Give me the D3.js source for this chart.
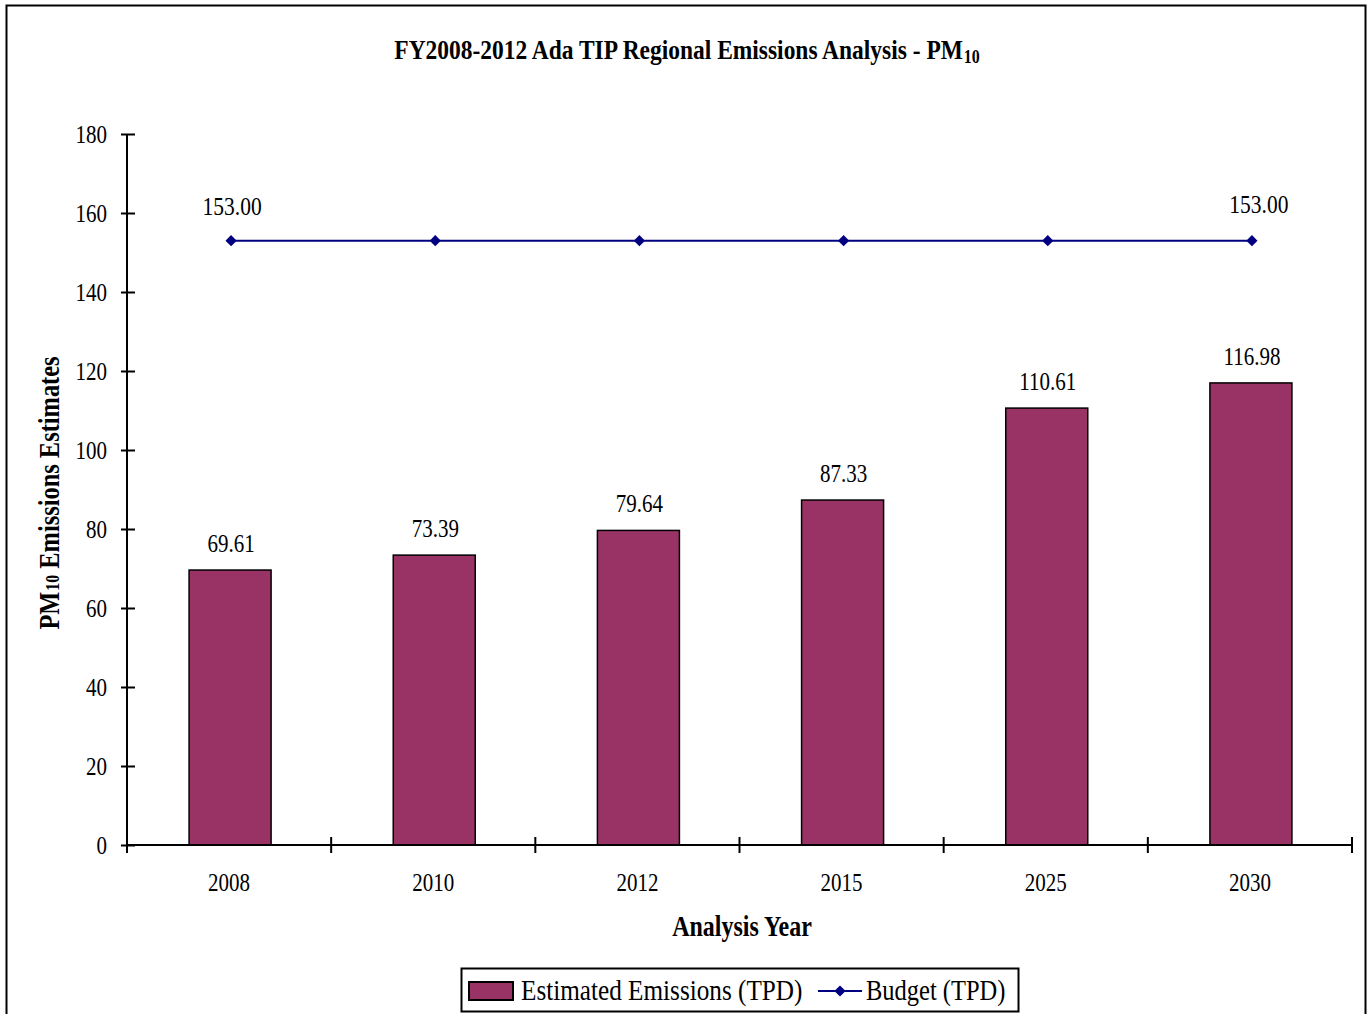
<!DOCTYPE html>
<html><head><meta charset="utf-8">
<script src="https://cdn.jsdelivr.net/npm/d3@7/dist/d3.min.js"></script>
<style>
body{margin:0;background:#fff;}
svg{display:block;}
text{font-family:"Liberation Serif","Times New Roman",serif;fill:#000;}
</style></head>
<body>
<svg id="chart" width="1369" height="1014"></svg>
<script>
const years = ["2008","2010","2012","2015","2025","2030"];
const emissions = [69.61, 73.39, 79.64, 87.33, 110.61, 116.98];
const budget = [153.00, 153.00, 153.00, 153.00, 153.00, 153.00];
const yTicks = [0,20,40,60,80,100,120,140,160,180];
const budgetLabelIdx = [0, 5];

const svg = d3.select("#chart");
const W = 1369, H = 1014;
const mLeft = 127, mRight = 1352, mTop = 134, mBottom = 845;
const CF = 0.84; // horizontal condense factor to mimic a condensed serif

svg.append("rect").attr("x",0).attr("y",0).attr("width",W).attr("height",H).attr("fill","#fff");
svg.append("rect").attr("x",6.5).attr("y",5.5).attr("width",1359).attr("height",1030)
  .attr("fill","none").attr("stroke","#000").attr("stroke-width",2);

const x = d3.scaleBand().domain(years).range([mLeft,mRight]).paddingInner(0).paddingOuter(0);
const y = d3.scaleLinear().domain([0,180]).range([mBottom,mTop]);

// title
const title = svg.append("text").attr("class","cond").attr("x",687).attr("y",59).attr("text-anchor","middle")
  .attr("font-size",23.5/CF).attr("font-weight","bold");
title.append("tspan").text("FY2008-2012 Ada TIP Regional Emissions Analysis - PM");
title.append("tspan").attr("font-size",16/CF).attr("dy",4).attr("dx",1).text("10");

// bars
const bw = 82;
svg.selectAll("rect.bar").data(years).enter().append("rect").attr("class","bar")
  .attr("x",(d)=>x(d)+x.bandwidth()/2-bw/2+1)
  .attr("y",(d,i)=>y(emissions[i]))
  .attr("width",bw)
  .attr("height",(d,i)=>y(0)-y(emissions[i]))
  .attr("fill","#993366").attr("stroke","#000").attr("stroke-width",1.5);

// bar labels
svg.selectAll("text.blab").data(years).enter().append("text").attr("class","blab cond")
  .attr("x",(d)=>x(d)+x.bandwidth()/2+2)
  .attr("y",(d,i)=>y(emissions[i])-18)
  .attr("text-anchor","middle").attr("font-size",21/CF)
  .text((d,i)=>emissions[i].toFixed(2));

// y axis
const yAxis = d3.axisLeft(y).tickValues(yTicks).tickSize(6).tickPadding(14);
const gy = svg.append("g").attr("transform",`translate(${mLeft},0)`).call(yAxis);
gy.select(".domain").remove();
gy.selectAll(".tick line").attr("x1",8).attr("x2",-6).attr("stroke","#000").attr("stroke-width",2);
gy.selectAll(".tick text").attr("class","cond").attr("font-size",21/CF).attr("font-family","Liberation Serif").attr("fill","#000").attr("dy","0.33em");
svg.append("line").attr("x1",mLeft).attr("x2",mLeft).attr("y1",mTop).attr("y2",mBottom+8)
  .attr("stroke","#000").attr("stroke-width",2);

// x axis
const xAxis = d3.axisBottom(x).tickSize(0).tickPadding(28);
const gx = svg.append("g").attr("transform",`translate(0,${mBottom})`).call(xAxis);
gx.select(".domain").remove();
gx.selectAll(".tick text").attr("class","cond").attr("font-size",21/CF).attr("font-family","Liberation Serif").attr("fill","#000");
svg.append("line").attr("x1",mLeft).attr("x2",mRight).attr("y1",mBottom).attr("y2",mBottom)
  .attr("stroke","#000").attr("stroke-width",2);
const bounds = years.slice(1).map(d=>x(d)).concat([mRight]);
svg.selectAll("line.xt").data(bounds).enter().append("line").attr("class","xt")
  .attr("x1",d=>d).attr("x2",d=>d).attr("y1",mBottom-8).attr("y2",mBottom+8)
  .attr("stroke","#000").attr("stroke-width",2);

// budget line
const line = d3.line().x((d,i)=>x(years[i])+x.bandwidth()/2+2).y(d=>y(d));
svg.append("path").datum(budget).attr("d",line).attr("fill","none")
  .attr("stroke","#000080").attr("stroke-width",2);
svg.selectAll("path.dm").data(budget).enter().append("path").attr("class","dm")
  .attr("d",d3.symbol().type(d3.symbolDiamond2).size(80))
  .attr("transform",(d,i)=>`translate(${x(years[i])+x.bandwidth()/2+2},${y(d)})`)
  .attr("fill","#000080");
svg.selectAll("text.bud").data(budgetLabelIdx).enter().append("text").attr("class","bud cond")
  .attr("x",i=>x(years[i])+x.bandwidth()/2+(i===0?3:9))
  .attr("y",i=>y(budget[i])-(i===0?26:28))
  .attr("text-anchor","middle").attr("font-size",21.5/CF)
  .text(i=>budget[i].toFixed(2));

// axis titles
svg.append("text").attr("class","cond").attr("x",742).attr("y",936).attr("text-anchor","middle")
  .attr("font-size",24/CF).attr("font-weight","bold").text("Analysis Year");
const yt = svg.append("text").attr("class","cond").attr("transform","translate(59,493) rotate(-90)")
  .attr("text-anchor","middle").attr("font-size",24.5/CF).attr("font-weight","bold");
yt.append("tspan").text("PM");
yt.append("tspan").attr("font-size",16/CF).attr("dx",1).text("10");
yt.append("tspan").text(" Emissions Estimates");

// legend
const lg = svg.append("g");
lg.append("rect").attr("x",461.5).attr("y",968.5).attr("width",557).attr("height",43)
  .attr("fill","#fff").attr("stroke","#000").attr("stroke-width",2);
lg.append("rect").attr("x",469).attr("y",982).attr("width",44).attr("height",18)
  .attr("fill","#993366").attr("stroke","#000").attr("stroke-width",2);
lg.append("text").attr("class","cond").attr("x",521).attr("y",1000).attr("font-size",25.2/CF).text("Estimated Emissions (TPD)");
lg.append("line").attr("x1",818).attr("x2",862).attr("y1",991).attr("y2",991)
  .attr("stroke","#000080").attr("stroke-width",2);
lg.append("path").attr("d",d3.symbol().type(d3.symbolDiamond2).size(80))
  .attr("transform","translate(840,991)").attr("fill","#000080");
lg.append("text").attr("class","cond").attr("x",866).attr("y",1000).attr("font-size",24.5/CF).text("Budget (TPD)");

// condense all text horizontally
svg.selectAll("text.cond").each(function(){
  const L = this.getComputedTextLength();
  d3.select(this).attr("textLength", L*CF).attr("lengthAdjust","spacingAndGlyphs");
});
</script>
</body></html>
